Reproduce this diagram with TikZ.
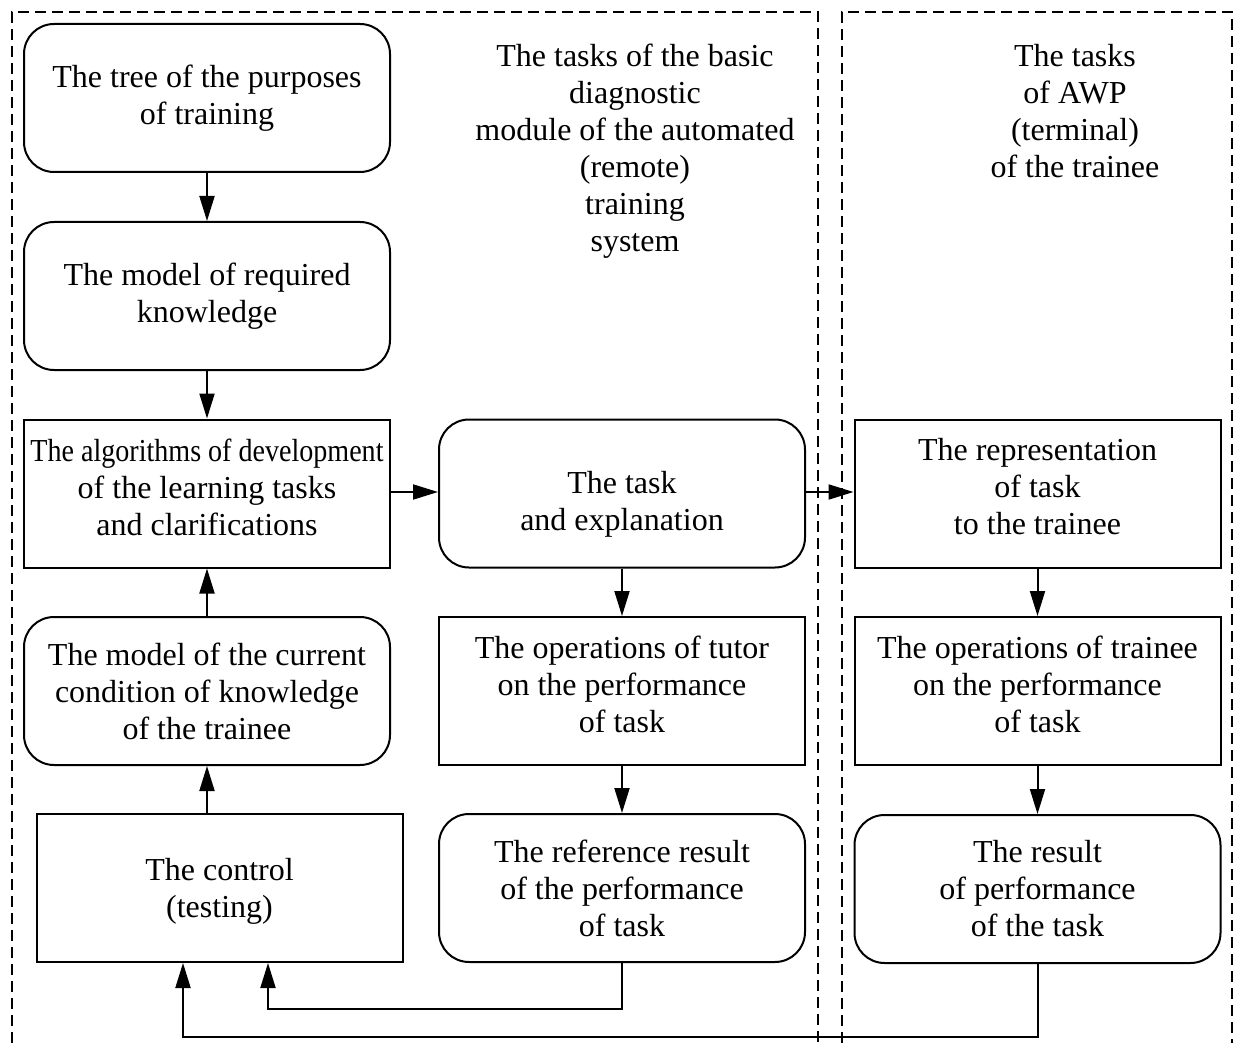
\documentclass[tikz,border=0pt]{standalone}
\usepackage{fontspec}
\setmainfont{Liberation Serif}
\usetikzlibrary{arrows.meta,calc}
\begin{document}
\begin{tikzpicture}[x=1pt,y=-1pt,
  every node/.style={font=\fontsize{32}{37}\selectfont, align=center},
  rbox/.style={draw, line width=2pt, rounded corners=30pt, minimum width=366pt, minimum height=148pt, inner sep=0pt},
  sbox/.style={draw, line width=2pt, minimum width=366pt, minimum height=148pt, inner sep=0pt},
  arr/.style={line width=2pt, -{Triangle[length=25pt,width=15pt]}},
  frame/.style={line width=1.5pt, dash pattern=on 11pt off 6pt}]
\useasboundingbox (0,0) rectangle (1235,1043);
% dashed frames
\draw[frame] (12,1043) -- (12,12) -- (818,12) -- (818,1043);
\draw[frame] (842,1043) -- (842,12) -- (1232,12) -- (1232,1043);
% headers
\node (h1) at (635,151) {The tasks of the basic\\diagnostic\\module of the automated\\(remote)\\training\\system};
\node (h2) at (1075,111) {The tasks\\of AWP\\(terminal)\\of the trainee};
% left column
\node[rbox] (tree) at (207,98) {The tree of the purposes\\of training};
\node[rbox] (req) at (207,296) {The model of required\\knowledge};
\node[sbox, label={[yshift=6.5pt]center:{\scalebox{0.877}[1]{The algorithms of development}\\of the learning tasks\\and clarifications}}] (alg) at (207,493.5) {};
\node[rbox] (cur) at (207,691) {The model of the current\\condition of knowledge\\of the trainee};
\node[sbox, label={[yshift=-3pt]center:{The control\\(testing)}}] (ctrl) at (219.5,888) {};
% middle column
\node[rbox, label={[yshift=-11pt]center:{The task\\and explanation}}] (task) at (622,493.5) {};
\node[sbox, label={[yshift=7pt]center:{The operations of tutor\\on the performance\\of task}}] (tutor) at (622,691) {};
\node[rbox] (refr) at (622,888) {The reference result\\of the performance\\of task};
% right column
\node[sbox, label={[yshift=6.5pt]center:{The representation\\of task\\to the trainee}}] (repr) at (1037.5,493.5) {};
\node[sbox, label={[yshift=7pt]center:{The operations of trainee\\on the performance\\of task}}] (trop) at (1037.5,691) {};
\node[rbox] (res) at (1037.5,889) {The result\\of performance\\of the task};
% arrows
\draw[arr] (tree) -- (req);
\draw[arr] (req) -- (alg);
\draw[arr] (cur) -- (alg);
\draw[arr] (ctrl.north -| cur.south) -- (cur);
\draw[arr] ([yshift=1.5pt]alg.east) -- ([yshift=1.5pt]task.west);
\draw[arr] ([yshift=1.5pt]task.east) -- ([yshift=1.5pt]repr.west);
\draw[arr] (task) -- (tutor);
\draw[arr] (tutor) -- (refr);
\draw[arr] (repr) -- (trop);
\draw[arr] (trop) -- (res);
\draw[arr] (refr.south) -- ++(0,46) -| ([xshift=48.5pt]ctrl.south);
\draw[arr] (res.south) -- ++(0,73) -| ([xshift=-36.5pt]ctrl.south);
\end{tikzpicture}
\end{document}
